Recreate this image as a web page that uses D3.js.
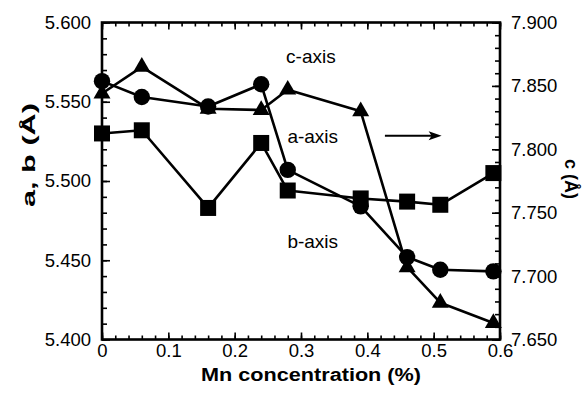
<!DOCTYPE html>
<html><head><meta charset="utf-8">
<script src="https://cdn.jsdelivr.net/npm/d3@7/dist/d3.min.js"></script>
<style>
body{margin:0;background:#fff;}
svg{display:block;font-family:"Liberation Sans",Arial,Helvetica,sans-serif;}
</style></head>
<body><svg id="chart" width="588" height="397"></svg>
<script>
// ---- data ----
const mnConc = [0, 0.06, 0.16, 0.24, 0.28, 0.39, 0.46, 0.51, 0.59];
const aAxis = [5.563, 5.553, 5.547, 5.561, 5.507, 5.484, 5.452, 5.444, 5.443]; // circles, left axis
const bAxis = [5.530, 5.532, 5.483, 5.524, 5.494, 5.489, 5.487, 5.485, 5.505]; // squares, left axis
const cAxis = [7.844, 7.865, 7.832, 7.831, 7.847, 7.830, 7.707, 7.679, 7.663]; // triangles, right axis
const xTicks = [0, 0.1, 0.2, 0.3, 0.4, 0.5, 0.6];
const xTickLabels = ["0", "0.1", "0.2", "0.3", "0.4", "0.5", "0.6"];
const leftTicks = [5.40, 5.45, 5.50, 5.55, 5.60];
const rightTicks = [7.65, 7.70, 7.75, 7.80, 7.85, 7.90];

const svg = d3.select("#chart");
const L = 102, R = 500, T = 22.5, B = 339.5;
const x = d3.scaleLinear().domain([0, 0.6]).range([L, R]);
const yL = d3.scaleLinear().domain([5.4, 5.6]).range([B, T]);
const yR = d3.scaleLinear().domain([7.65, 7.9]).range([B, T]);

const fontTick = "18.5px";
function styleAxis(g){
  g.select(".domain").remove();
  g.selectAll(".tick line").attr("stroke","#000").attr("stroke-width",1.6);
  g.selectAll(".tick text").attr("fill","#000").style("font-size",fontTick)
   .style("font-family",'"Liberation Sans",Arial,sans-serif');
}
const xMinor = d3.range(0, 0.601, 0.02);
const lMinor = d3.range(5.4, 5.6001, 0.01);
const rMinor = d3.range(7.65, 7.9001, 0.01);

// minor ticks
svg.append("g").attr("transform",`translate(0,${B})`)
  .call(d3.axisBottom(x).tickValues(xMinor).tickSizeInner(-4).tickSizeOuter(0).tickFormat(""))
  .call(styleAxis);
svg.append("g").attr("transform",`translate(0,${T})`)
  .call(d3.axisTop(x).tickValues(xMinor).tickSizeInner(-4).tickSizeOuter(0).tickFormat(""))
  .call(styleAxis);
svg.append("g").attr("transform",`translate(${L},0)`)
  .call(d3.axisLeft(yL).tickValues(lMinor).tickSizeInner(-5).tickSizeOuter(0).tickFormat(""))
  .call(styleAxis);
svg.append("g").attr("transform",`translate(${R},0)`)
  .call(d3.axisRight(yR).tickValues(rMinor).tickSizeInner(-5).tickSizeOuter(0).tickFormat(""))
  .call(styleAxis);

// major ticks + labels
svg.append("g").attr("transform",`translate(0,${B})`)
  .call(d3.axisBottom(x).tickValues(xTicks).tickSizeInner(-7).tickSizeOuter(0).tickPadding(4)
    .tickFormat((d,i)=>xTickLabels[i]))
  .call(styleAxis);
svg.append("g").attr("transform",`translate(0,${T})`)
  .call(d3.axisTop(x).tickValues(xTicks).tickSizeInner(-7).tickSizeOuter(0).tickFormat(""))
  .call(styleAxis);
svg.append("g").attr("transform",`translate(${L},0)`)
  .call(d3.axisLeft(yL).tickValues(leftTicks).tickSizeInner(-8).tickSizeOuter(0).tickPadding(11)
    .tickFormat(d3.format(".3f")))
  .call(styleAxis);
svg.append("g").attr("transform",`translate(${R},0)`)
  .call(d3.axisRight(yR).tickValues(rightTicks).tickSizeInner(-8).tickSizeOuter(0).tickPadding(11)
    .tickFormat(d3.format(".3f")))
  .call(styleAxis);

// frame
svg.append("rect").attr("x",L).attr("y",T).attr("width",R-L).attr("height",B-T)
  .attr("fill","none").attr("stroke","#000").attr("stroke-width",2.6);

// series
const series = [
  {vals: cAxis, y: yR, shape: "tri"},
  {vals: aAxis, y: yL, shape: "circ"},
  {vals: bAxis, y: yL, shape: "sq"}
];
series.forEach(s=>{
  const pts = mnConc.map((m,i)=>[x(m), s.y(s.vals[i])]);
  svg.append("path").attr("d", d3.line()(pts)).attr("fill","none")
    .attr("stroke","#000").attr("stroke-width",2.6).attr("stroke-linejoin","round");
});
series.forEach(s=>{
  const g = svg.append("g");
  mnConc.forEach((m,i)=>{
    const cx = x(m), cy = s.y(s.vals[i]);
    if(s.shape==="circ"){
      g.append("circle").attr("cx",cx).attr("cy",cy).attr("r",8.2).attr("fill","#000");
    } else if(s.shape==="sq"){
      g.append("rect").attr("x",cx-8).attr("y",cy-8).attr("width",16).attr("height",16).attr("fill","#000");
    } else {
      g.append("path").attr("d", d3.symbol(d3.symbolTriangle, 125)())
        .attr("transform",`translate(${cx},${cy})`).attr("fill","#000");
    }
  });
});

// annotations
const ann = [
  {t:"c-axis", xv:0.2775, yv:7.868},
  {t:"a-axis", xv:0.2795, yv:7.805},
  {t:"b-axis", xv:0.2795, yv:7.722}
];
ann.forEach(a=>{
  svg.append("text").attr("x",x(a.xv)).attr("y",yR(a.yv)).text(a.t)
    .style("font-size","19px").attr("fill","#000");
});
// arrow
const ax1 = x(0.4265), ax2 = x(0.512), ay = yR(7.8107);
svg.append("line").attr("x1",ax1).attr("x2",ax2-8).attr("y1",ay).attr("y2",ay)
  .attr("stroke","#000").attr("stroke-width",2);
svg.append("path").attr("d",`M${ax2},${ay} L${ax2-13},${ay-4.5} L${ax2-10},${ay} L${ax2-13},${ay+4.5} Z`)
  .attr("fill","#000");

// axis titles
svg.append("text").attr("x",(L+R)/2+10).attr("y",381).attr("text-anchor","middle")
  .style("font-size","18px").style("font-weight","bold")
  .attr("textLength",220).attr("lengthAdjust","spacingAndGlyphs")
  .text("Mn concentration (%)");
svg.append("text").attr("transform","translate(35,155) rotate(-90)").attr("text-anchor","middle")
  .style("font-size","19px").style("font-weight","bold")
  .attr("textLength",104).attr("lengthAdjust","spacingAndGlyphs")
  .text("a, b (Å)");
svg.append("text").attr("transform","translate(565,179) rotate(90)").attr("text-anchor","middle")
  .style("font-size","18px").style("font-weight","bold")
  .text("c (Å)");
</script></body></html>
